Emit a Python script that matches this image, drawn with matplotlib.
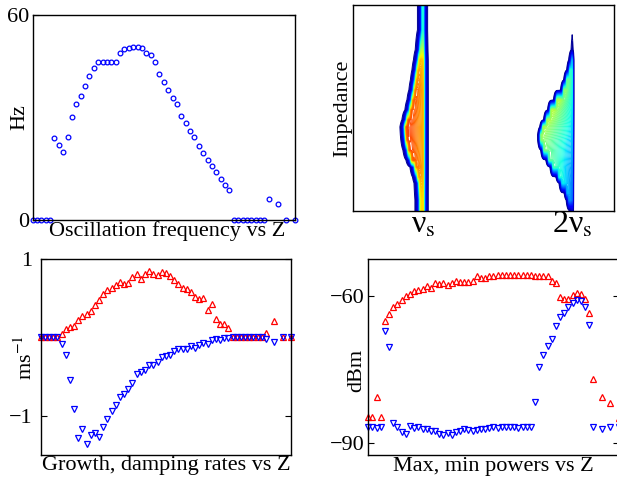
import numpy as np
import matplotlib
matplotlib.use("Agg")
import matplotlib.pyplot as plt

nan = np.nan

# Z index (same grid for the three scatter panels)
z = np.arange(61)

# Oscillation frequency (Hz)
freq = [0, 0, 0, 0, 0,
        23.9, 22.0, 19.8, 24.2, 30.2, 33.9, 36.1, 39.0, 42.0, 44.3,
        46.0, 46.1, 46.2, 46.2, 46.2, 48.7, 50.0, 50.1, 50.5, 50.4,
        50.1, 48.8, 48.2, 46.0, 42.5, 40.3, 38.0, 35.7, 33.8, 30.3,
        28.2, 26.0, 24.1, 21.6, 19.7, 17.6, 15.8, 13.9, 11.9, 10.1,
        8.9,
        0, 0, 0, 0, 0, 0, 0, 0,
        6.2, nan, 4.6, nan, 0, nan, 0]

# growth / damping rates (ms^-1)
growth = [0, 0, 0, 0, 0,
          0.043, 0.106, 0.128, 0.14, 0.221, 0.27, 0.296, 0.34, 0.417, 0.48,
          0.558, 0.604, 0.63, 0.665, 0.70, 0.681, 0.693, 0.774, 0.804, 0.740,
          0.81, 0.847, 0.806, 0.796, 0.830, 0.823, 0.778, 0.736, 0.683, 0.626,
          0.62, 0.581, 0.511, 0.49, 0.496, 0.349, 0.424, 0.232, 0.166, 0.168,
          0.121,
          0, 0, 0, 0, 0, 0, 0, 0,
          0.051, nan, 0.209, nan, 0, nan, 0]
damping = [0, 0, 0, 0, 0,
           -0.08, -0.22, -0.545, -0.917, -1.285, -1.165, -1.366, -1.247, -1.218, -1.268,
           -1.145, -1.043, -0.936, -0.864, -0.757, -0.728, -0.655, -0.585, -0.466, -0.449,
           -0.417, -0.355, -0.355, -0.315, -0.251, -0.236, -0.221, -0.174, -0.153, -0.147,
           -0.149, -0.108, -0.14, -0.1, -0.079, -0.087, -0.04, -0.026, -0.034, -0.015,
           -0.011,
           0, 0, 0, 0, 0, 0, 0, 0,
           -0.02, nan, -0.06, nan, 0, nan, 0]

# max / min powers (dBm)
pmax = [-84.7, -84.7, -80.65, -84.7, -65.1, -63.6, -62.2, -61.6, -60.9, -60.1,
        -59.7, -59.1, -58.8, -58.7, -58.0, -58.5, -57.4, -57.6, -57.4, -57.8,
        -57.4, -57.0, -57.2, -57.2, -57.1, -57.0, -56.0, -56.3, -56.3, -56.0,
        -55.9, -55.7, -55.8, -55.7, -55.7, -55.7, -55.7, -55.7, -55.7, -55.8,
        -56.0, -56.0, -55.9, -56.0, -57.0, -57.3, -60.3, -60.7, -60.7, -59.9,
        -59.5, -59.7, -60.7, -63.5, -77.0, nan, -80.65, nan, -81.9, nan, -84.9]
pmin = [-86.6, -86.6, -86.9, -86.7, -67.1, -70.5, -85.8, -86.7, -87.8, -88.1,
        -86.5, -86.9, -86.7, -87.1, -87.1, -87.5, -87.5, -88.2, -88.3, -88.0,
        -88.4, -87.8, -87.6, -87.1, -87.4, -87.5, -87.4, -87.1, -87.1, -86.9,
        -86.7, -86.9, -86.7, -86.8, -86.8, -86.8, -86.9, -86.7, -86.7, -86.7,
        -81.7, -74.4, -72.1, -70.2, -68.7, -66.2, -64.4, -63.5, -62.2, -61.4,
        -60.9, -61.0, -62.2, -66.0, -86.6, nan, -87.1, nan, -86.8, nan, -86.7]

# spectrum vs impedance (frequency in units of nu_s), rows bottom -> top
imp = [0, 0.053, 0.087, 0.136, 0.165, 0.214, 0.248, 0.296, 0.345, 0.369, 0.408,
       0.442, 0.490, 0.539, 0.587, 0.636, 0.684, 0.733, 0.782, 0.879, 1.0]
edge1 = [0.946, 0.946, 0.943, 0.940, 0.930, 0.913, 0.886, 0.866, 0.852, 0.849, 0.846,
         0.859, 0.879, 0.893, 0.906, 0.916, 0.926, 0.936, 0.946, 0.958, 0.958]
amp1 = [0.95, 0.95, 0.95, 0.97, 0.98, 1.0, 1.0, 1.0, 1.0, 1.0, 1.0,
        1.0, 1.0, 1.0, 1.0, 0.98, 0.97, 0.95, 0.8, 0.62, 0.62]
edge2 = [1.980, 1.953, 1.940, 1.906, 1.886, 1.846, 1.819, 1.785, 1.765, 1.765, 1.779,
         1.805, 1.832, 1.872, 1.919, 1.940, 1.960, 1.973, 1.987, 1.990, 1.990]
amp2 = [0.38, 0.43, 0.45, 0.48, 0.5, 0.53, 0.56, 0.59, 0.62, 0.64, 0.66,
        0.68, 0.7, 0.72, 0.72, 0.72, 0.71, 0.69, 0.58, 0.3, 0.3]

plt.rcParams['font.family'] = 'serif'
plt.rcParams['font.serif'] = ['Liberation Serif', 'DejaVu Serif']
plt.rcParams['mathtext.fontset'] = 'stix'
plt.rcParams['font.size'] = 16

W, H = 617, 480
fig = plt.figure(figsize=(W / 100, H / 100), dpi=100)


def box(l, t, r, b):
    return [l / W, 1 - b / H, (r - l) / W, (b - t) / H]


ax1 = fig.add_axes(box(32.5, 14.5, 295, 220))
ax2 = fig.add_axes(box(352.7, 5, 614, 211))
ax3 = fig.add_axes(box(40.7, 259, 291, 455))
ax4 = fig.add_axes(box(368.3, 259, 618.5, 455))

for ax in (ax1, ax2, ax3, ax4):
    ax.tick_params(direction='in', length=4, width=0.8, left=True, right=True,
                   top=False, bottom=True, pad=3)
    for s in ax.spines.values():
        s.set_linewidth(1.0)

mk = dict(linestyle='none', mfc='none', clip_on=False, mew=0.9)

# --- oscillation frequency
ax1.plot(z, freq, 'o', color='blue', ms=3.4, **mk)
ax1.set_xlim(0, 60)
ax1.set_ylim(0, 60)
ax1.set_xticks([])
ax1.set_yticks([0, 60])
ax1.tick_params(pad=2)
ax1.set_ylabel('Hz')
ax1.yaxis.set_label_coords(-0.012, 0.5)
ax1.set_xlabel('Oscillation frequency vs Z')
ax1.xaxis.set_label_coords(0.511, -0.005)

# --- contour of spectrum vs impedance
fx = np.linspace(0.53, 2.28, 1400)


def lobe(x, xl, xc, amp, drop, a, b, ar):
    # outer edge xl: soft tail (a) then rise (b), slow slope inside,
    # sharp fall after the line xc
    u = x - (xl + a * np.log(25))
    rise = np.where(u < 0, 0.5 * np.exp(np.minimum(u, 0) / a),
                    1 - 0.5 * np.exp(-np.maximum(u, 0) / b))
    v = np.maximum(x - xc, 0)
    fall = np.exp(-v / ar)
    t = np.clip((x - xl) / (xc - xl), 0, 1)
    return amp * (1 - drop * t) * rise * fall


field = np.array([lobe(fx, a, 1.0, b, 0.22, 0.011, 0.005, 0.010) +
                  lobe(fx, c, 2.0, d, 0.45, 0.007, 0.004, 0.004)
                  for a, b, c, d in zip(edge1, amp1, edge2, amp2)])
ax2.contour(fx, imp, field, levels=np.linspace(0.02, 1.0, 110), cmap='jet',
            vmin=0, vmax=1.08, linewidths=0.7)
ax2.set_xlim(0.53, 2.28)
ax2.set_ylim(0, 1)
ax2.set_yticks([])
ax2.set_xticks([1, 2])
ax2.set_xticklabels([r'ν$_{\rm s}$', r'2ν$_{\rm s}$'], fontsize=23)
ax2.tick_params(length=0, pad=0)
ax2.set_ylabel('Impedance')
ax2.yaxis.set_label_coords(0.0, 0.5)

# --- growth / damping rates
ax3.plot(z, growth, '^', color='red', ms=4, **mk)
ax3.plot(z, damping, 'v', color='blue', ms=4, **mk)
ax3.set_xlim(0, 60)
ax3.set_ylim(-1.503, 1)
ax3.set_xticks([])
ax3.set_yticks([-1, 1])
ax3.tick_params(pad=6)
ax3.set_ylabel(r'ms$^{-1}$')
ax3.yaxis.set_label_coords(-0.015, 0.5)
ax3.set_xlabel('Growth, damping rates vs Z')
ax3.xaxis.set_label_coords(0.5, -0.003)

# --- max / min powers
ax4.plot(z, pmax, '^', color='red', ms=4, **mk)
ax4.plot(z, pmin, 'v', color='blue', ms=4, **mk)
ax4.set_xlim(0, 60)
ax4.set_ylim(-92.4, -52.5)
ax4.set_xticks([])
ax4.set_yticks([-90, -60])
ax4.tick_params(pad=3)
ax4.set_ylabel('dBm')
ax4.yaxis.set_label_coords(-0.009, 0.43)
ax4.set_xlabel('Max, min powers vs Z')
ax4.xaxis.set_label_coords(0.5, -0.01)

fig.savefig('out.png', dpi=100)
